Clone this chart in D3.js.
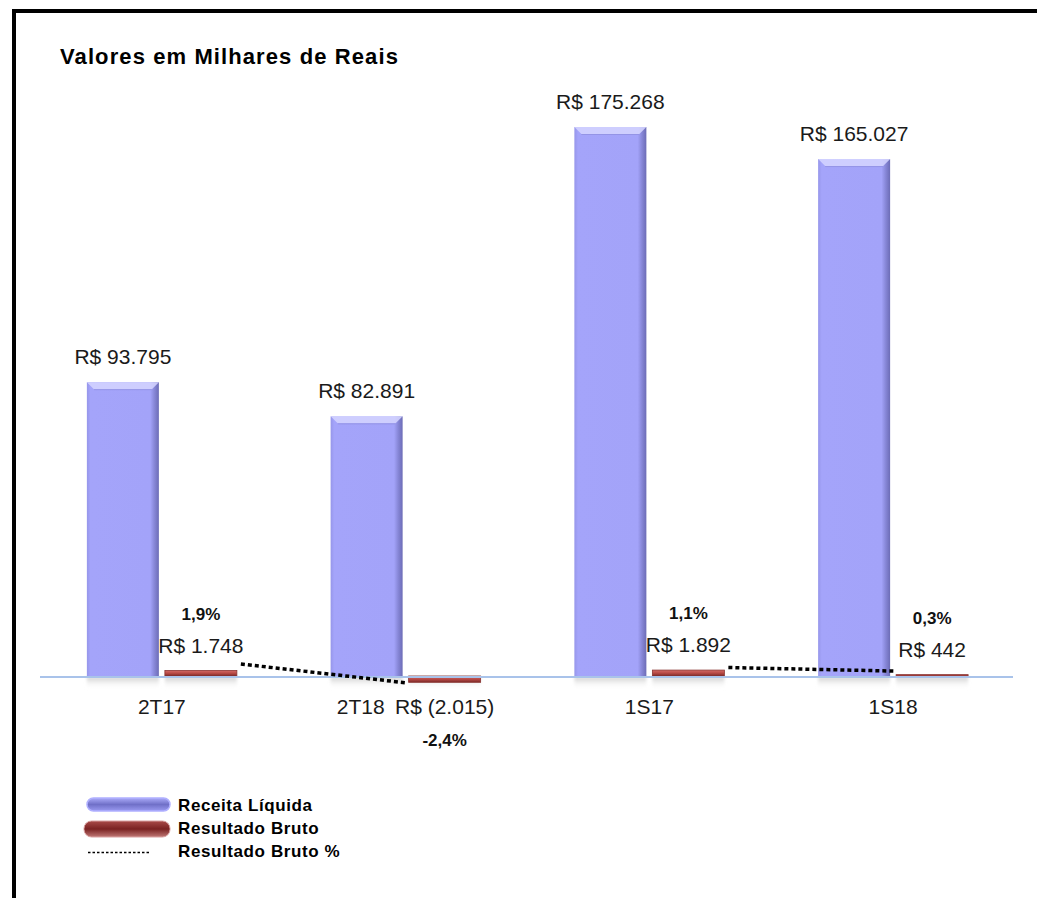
<!DOCTYPE html>
<html>
<head>
<meta charset="utf-8">
<script src="https://cdn.jsdelivr.net/npm/d3@7"></script>
<style>
  body { margin: 0; background: #fff; }
  svg { display: block; }
  .val { font-family: "Liberation Sans", Arial, sans-serif; font-size: 21px; fill: #1a1a1a; }
  .pct { font-family: "Liberation Sans", Arial, sans-serif; font-size: 17px; font-weight: bold; fill: #111; }
  .cat { font-family: "Liberation Sans", Arial, sans-serif; font-size: 21px; fill: #1a1a1a; }
  .leg { font-family: "Liberation Sans", Arial, sans-serif; font-size: 17px; font-weight: bold; fill: #000; letter-spacing: 0.6px; }
</style>
</head>
<body>
<div id="chart"></div>
<script>
// data
var categories = ["2T17", "2T18", "1S17", "1S18"];
var receita = [93795, 82891, 175268, 165027];
var resultado = [1748, -2015, 1892, 442];
var resultadoPct = [1.9, -2.4, 1.1, 0.3];
var valueLabels = ["R$ 93.795", "R$ 82.891", "R$ 175.268", "R$ 165.027"];
var resLabels = ["R$ 1.748", "R$ (2.015)", "R$ 1.892", "R$ 442"];
var pctLabels = ["1,9%", "-2,4%", "1,1%", "0,3%"];
// the % line is drawn in two pieces: quarters, then semesters
var pctGroups = [[0, 1], [2, 3]];

var width = 1037;
var height = 898;
var baseY = 676;

var svg = d3.select("#chart")
    .append("svg")
    .attr("width", width)
    .attr("height", height);

var defs = svg.append("defs");

// gradients for the bevelled look
var bg = defs.append("linearGradient").attr("id", "blueGrad");
bg.append("stop").attr("offset", "0").attr("stop-color", "#9696ea");
bg.append("stop").attr("offset", "0.05").attr("stop-color", "#a4a4fa");
bg.append("stop").attr("offset", "0.88").attr("stop-color", "#a3a3f9");
bg.append("stop").attr("offset", "0.94").attr("stop-color", "#8686d6");
bg.append("stop").attr("offset", "1").attr("stop-color", "#6c6cb6");

var rg = defs.append("linearGradient").attr("id", "redGrad")
    .attr("x1", 0).attr("x2", 0).attr("y1", 0).attr("y2", 1);
rg.append("stop").attr("offset", "0").attr("stop-color", "#d46a66");
rg.append("stop").attr("offset", "0.5").attr("stop-color", "#b84a46");
rg.append("stop").attr("offset", "1").attr("stop-color", "#7c2a28");

var lb = defs.append("linearGradient").attr("id", "legBlue")
    .attr("x1", 0).attr("x2", 0).attr("y1", 0).attr("y2", 1);
lb.append("stop").attr("offset", "0").attr("stop-color", "#aaaaf8");
lb.append("stop").attr("offset", "0.5").attr("stop-color", "#7070c8");
lb.append("stop").attr("offset", "1").attr("stop-color", "#9a9af0");

var lr = defs.append("linearGradient").attr("id", "legRed")
    .attr("x1", 0).attr("x2", 0).attr("y1", 0).attr("y2", 1);
lr.append("stop").attr("offset", "0").attr("stop-color", "#a84a48");
lr.append("stop").attr("offset", "0.5").attr("stop-color", "#7a2222");
lr.append("stop").attr("offset", "1").attr("stop-color", "#c07876");

var sh = defs.append("linearGradient").attr("id", "shadowGrad")
    .attr("x1", 0).attr("x2", 0).attr("y1", 0).attr("y2", 1);
sh.append("stop").attr("offset", "0").attr("stop-color", "#c8c8c8").attr("stop-opacity", 0.9);
sh.append("stop").attr("offset", "1").attr("stop-color", "#ffffff").attr("stop-opacity", 0);

defs.append("filter").attr("id", "blur")
    .append("feGaussianBlur").attr("stdDeviation", 1.5);

// frame (top and left only)
svg.append("rect").attr("x", 12).attr("y", 9).attr("width", width - 12).attr("height", 4).attr("fill", "#000");
svg.append("rect").attr("x", 12).attr("y", 9).attr("width", 4).attr("height", height - 9).attr("fill", "#000");

// title
svg.append("text")
    .attr("x", 60)
    .attr("y", 64)
    .attr("font-family", "'Liberation Sans', Arial, sans-serif")
    .attr("font-size", 22)
    .attr("font-weight", "bold")
    .attr("letter-spacing", 1.1)
    .text("Valores em Milhares de Reais");

// scales
var x0 = d3.scaleBand()
    .domain(categories)
    .range([40, 1015])
    .paddingInner(0.3846)
    .paddingOuter(0.1923);

var x1 = d3.scaleBand()
    .domain(["rec", "res"])
    .range([0, x0.bandwidth()])
    .paddingInner(0.077);

var y = d3.scaleLinear()
    .domain([0, d3.max(receita)])
    .range([baseY, 127]);

var yPct = d3.scaleLinear()
    .domain([d3.min(resultadoPct), d3.max(resultadoPct)])
    .range([683, 664]);

var bw = x1.bandwidth();

// soft reflections under the bars
var shadows = svg.append("g").attr("class", "shadows");
categories.forEach(function(c) {
    ["rec", "res"].forEach(function(s) {
        shadows.append("rect")
            .attr("x", x0(c) + x1(s))
            .attr("y", baseY + 1)
            .attr("width", bw)
            .attr("height", 12)
            .attr("fill", "url(#shadowGrad)")
            .attr("filter", "url(#blur)");
    });
});

// blue bars
var blue = svg.selectAll(".rec")
    .data(categories)
    .enter()
    .append("g")
    .attr("class", "rec");

blue.append("rect")
    .attr("x", function(d) { return x0(d) + x1("rec"); })
    .attr("y", function(d, i) { return y(receita[i]); })
    .attr("width", bw)
    .attr("height", function(d, i) { return baseY - y(receita[i]); })
    .attr("fill", "url(#blueGrad)");

// top bevel
blue.append("path")
    .attr("d", function(d, i) {
        var xl = x0(d) + x1("rec");
        var t = y(receita[i]);
        return "M" + xl + "," + t + "L" + (xl + bw) + "," + t +
            "L" + (xl + bw - 7) + "," + (t + 7) + "L" + (xl + 7) + "," + (t + 7) + "Z";
    })
    .attr("fill", "#d6d6ff")
    .attr("opacity", 0.85);

blue.append("line")
    .attr("x1", function(d) { return x0(d) + x1("rec") + 7; })
    .attr("x2", function(d) { return x0(d) + x1("rec") + bw - 7; })
    .attr("y1", function(d, i) { return y(receita[i]) + 7.5; })
    .attr("y2", function(d, i) { return y(receita[i]) + 7.5; })
    .attr("stroke", "#9494e6")
    .attr("stroke-width", 1);

// red bars
svg.selectAll(".res")
    .data(categories)
    .enter()
    .append("rect")
    .attr("class", "res")
    .attr("x", function(d) { return x0(d) + x1("res"); })
    .attr("y", function(d, i) { return Math.min(y(resultado[i]), baseY); })
    .attr("width", bw)
    .attr("height", function(d, i) { return Math.abs(y(resultado[i]) - baseY); })
    .attr("fill", "url(#redGrad)")
    .attr("stroke", "#8a3432")
    .attr("stroke-width", 0.8);

// baseline
svg.append("line")
    .attr("x1", 40)
    .attr("x2", 1013)
    .attr("y1", baseY + 1)
    .attr("y2", baseY + 1)
    .attr("stroke", "#a9c3ea")
    .attr("stroke-width", 2);

// dotted % line, pieces run from the end of one red bar to the start of the next
var line = d3.line()
    .x(function(d) { return d.x; })
    .y(function(d) { return yPct(d.v); });

pctGroups.forEach(function(g) {
    var pts = [
        { x: x0(categories[g[0]]) + x1("res") + bw + 4, v: resultadoPct[g[0]] },
        { x: x0(categories[g[1]]) + x1("res") - 1, v: resultadoPct[g[1]] }
    ];
    svg.append("path")
        .attr("d", line(pts))
        .attr("fill", "none")
        .attr("stroke", "#000")
        .attr("stroke-width", 3.5)
        .attr("stroke-dasharray", "4,3");
});

// value labels on blue bars
svg.selectAll(".recLabel")
    .data(categories)
    .enter()
    .append("text")
    .attr("class", "val")
    .attr("text-anchor", "middle")
    .attr("x", function(d) { return x0(d) + x1("rec") + bw / 2; })
    .attr("y", function(d, i) { return y(receita[i]) - 18; })
    .text(function(d, i) { return valueLabels[i]; });

// value labels on red bars
svg.selectAll(".resLabel")
    .data(categories)
    .enter()
    .append("text")
    .attr("class", "val")
    .attr("text-anchor", "middle")
    .attr("x", function(d) { return x0(d) + x1("res") + bw / 2; })
    .attr("y", function(d, i) {
        return resultado[i] >= 0 ? y(resultado[i]) - 18 : y(resultado[i]) + 32;
    })
    .text(function(d, i) { return resLabels[i]; });

// % labels
svg.selectAll(".pctLabel")
    .data(categories)
    .enter()
    .append("text")
    .attr("class", "pct")
    .attr("text-anchor", "middle")
    .attr("x", function(d) { return x0(d) + x1("res") + bw / 2; })
    .attr("y", function(d, i) {
        return resultado[i] >= 0 ? y(resultado[i]) - 51 : y(resultado[i]) + 64;
    })
    .text(function(d, i) { return pctLabels[i]; });

// category labels
svg.selectAll(".cat")
    .data(categories)
    .enter()
    .append("text")
    .attr("class", "cat")
    .attr("text-anchor", "middle")
    .attr("x", function(d) { return x0(d) + x0.bandwidth() / 2; })
    .attr("y", 714)
    .text(function(d, i) {
        // the 2T18 label shares its line with the negative value label
        return i === 1 ? "" : d;
    });

svg.append("text")
    .attr("class", "cat")
    .attr("text-anchor", "end")
    .attr("x", x0(categories[1]) + x1("res") - 24)
    .attr("y", 714)
    .text(categories[1]);

// legend
var legend = svg.append("g");
legend.append("rect")
    .attr("x", 87).attr("y", 798).attr("width", 83).attr("height", 13).attr("rx", 6.5)
    .attr("fill", "url(#legBlue)").attr("stroke", "#b0b0ff").attr("stroke-width", 1.5);
legend.append("rect")
    .attr("x", 84).attr("y", 821).attr("width", 86).attr("height", 16).attr("rx", 7.5)
    .attr("fill", "url(#legRed)").attr("stroke", "#d8a0a0").attr("stroke-width", 1);
legend.append("line")
    .attr("x1", 88).attr("x2", 150).attr("y1", 852.5).attr("y2", 852.5)
    .attr("stroke", "#000").attr("stroke-width", 1.5).attr("stroke-dasharray", "2.5,2");

var legendNames = ["Receita Líquida", "Resultado Bruto", "Resultado Bruto %"];
legend.selectAll(".leg")
    .data(legendNames)
    .enter()
    .append("text")
    .attr("class", "leg")
    .attr("x", 178)
    .attr("y", function(d, i) { return 811 + i * 23; })
    .text(function(d) { return d; });
</script>
</body>
</html>
